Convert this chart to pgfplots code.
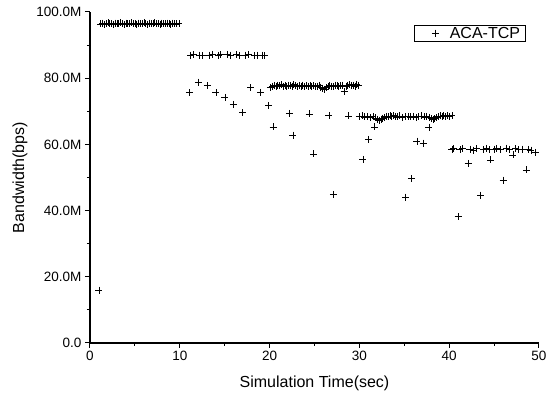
\documentclass[border=0pt]{standalone}
\usepackage{pgfplots}
\pgfplotsset{compat=1.18}
\usepackage{fontspec}
\setmainfont{Liberation Sans}
\begin{document}
\begin{tikzpicture}
\begin{axis}[name=ax, at={(0,0)}, anchor=south west,
 scale only axis, width=449pt, height=331pt,
 xmin=0, xmax=50, ymin=0, ymax=100,
 axis x line*=bottom, axis y line*=left,
 axis line style={line width=1.3pt, black},
 xtick={0,10,...,50}, xticklabels={0,10,20,30,40,50},
 ytick={0,20,...,100}, yticklabels={0.0,20.0M,40.0M,60.0M,80.0M,100.0M},
 minor xtick={5,15,...,45}, minor ytick={10,30,...,90},
 tick align=outside, major tick length=5pt, minor tick length=3pt,
 tick style={line width=1pt, black},
 ticklabel style={font=\fontsize{13.5}{15}\selectfont},
 xlabel={Simulation Time(sec)}, ylabel={Bandwidth(bps)},
 label style={font=\fontsize{16}{18}\selectfont},
 xlabel style={at={(axis description cs:0.5,-0.121)}, anchor=center},
 ylabel style={at={(axis description cs:-0.156,0.5)}, anchor=center},
 legend style={at={(0.971,0.961)}, anchor=north east, draw=black, line width=0.9pt,
   font=\fontsize{16}{18}\selectfont, inner xsep=4pt, inner ysep=0pt,
   nodes={inner sep=1.5pt}},
 legend image code/.code={\path[draw=none] (0pt,0pt) -- (30pt,0pt);
   \draw[line width=0.7pt] plot coordinates {(17pt,0pt)};},
 legend cell align=left,
]
\addplot[only marks, mark=+, mark size=3.5pt, black, mark options={line width=0.7pt}] coordinates {
(1.0,16.0)
(1.2,96.4)(1.4,96.6)(1.6,96.3)(1.8,96.5)(2.0,96.7)(2.2,96.4)(2.4,96.5)(2.6,96.3)(2.8,96.6)(3.0,96.5)
(3.2,96.4)(3.4,96.7)(3.6,96.5)(3.8,96.3)(4.0,96.6)(4.2,96.4)(4.4,96.5)(4.6,96.7)(4.8,96.4)(5.0,96.5)
(5.2,96.3)(5.4,96.6)(5.6,96.5)(5.8,96.4)(6.0,96.7)(6.2,96.5)(6.4,96.3)(6.6,96.6)(6.8,96.4)(7.0,96.5)
(7.2,96.7)(7.4,96.4)(7.6,96.5)(7.8,96.3)(8.0,96.6)(8.2,96.5)(8.4,96.4)(8.6,96.6)(8.8,96.5)(9.0,96.3)
(9.2,96.6)(9.4,96.5)(9.6,96.4)(9.9,96.5)
(11.2,86.9)(11.5,87.1)(12.2,87.0)(12.5,86.8)(13.3,87.0)(13.6,87.2)(14.3,86.9)(14.5,87.1)(15.3,87.2)
(15.6,87.0)(16.3,87.1)(16.6,86.9)(17.3,87.0)(17.6,87.1)(18.3,86.8)(18.6,87.0)(19.2,87.0)(19.4,86.8)
(11.06,75.6)(12.06,78.8)(13.06,77.7)(14.03,75.6)(15.03,74.2)(15.96,72.1)(17.0,69.6)(17.9,77.1)(19.0,75.7)(19.9,71.7)
(20.1,77.2)(20.3,77.6)(20.5,77.8)(20.7,77.5)(20.9,77.9)(21.1,77.7)(21.3,78.0)(21.5,77.6)(21.7,77.8)(21.9,77.5)
(22.1,77.9)(22.3,77.7)(22.5,77.6)(22.7,78.0)(22.9,77.7)(23.1,77.5)(23.3,77.8)(23.5,77.6)(23.7,77.9)(23.9,77.5)
(24.1,77.7)(24.3,77.6)(24.5,77.8)(24.7,77.5)(24.9,77.7)(25.1,77.4)(25.3,77.6)(25.5,77.8)(25.7,77.3)(25.9,77.0)
(26.1,76.7)(26.3,77.1)(26.5,77.5)(26.7,77.8)(26.9,77.6)(27.1,77.5)(27.3,77.9)(27.5,77.7)(27.7,77.5)(27.9,77.8)
(28.1,77.9)(28.3,75.9)(28.5,77.6)(28.7,77.8)(28.9,78.0)(29.1,77.7)(29.3,77.9)(29.5,77.6)(29.7,78.0)(29.9,77.8)
(20.4,65.3)(22.2,69.4)(22.6,62.8)(24.4,69.2)(24.9,57.1)(26.6,68.7)(27.1,44.9)(28.8,68.6)
(30.0,68.4)(30.3,68.6)(30.6,68.3)(30.9,68.5)(31.2,68.2)(31.5,68.4)(31.8,68.0)(32.0,67.6)(32.2,67.3)(32.4,67.6)
(32.6,67.9)(32.8,68.2)(33.0,68.5)(33.2,68.3)(33.4,68.6)(33.6,68.4)(33.8,68.7)(34.0,68.5)(34.2,68.3)(34.5,68.6)
(34.8,68.2)(35.1,68.4)(35.4,68.5)(35.7,68.3)(36.0,68.5)(36.3,68.2)(36.6,68.4)(36.9,68.6)(37.2,68.3)(37.5,68.5)
(37.8,68.2)(38.0,67.8)(38.2,67.5)(38.4,67.8)(38.6,68.1)(38.8,68.4)(39.0,68.6)(39.2,68.5)(39.4,68.7)(39.6,68.4)
(39.8,68.6)(40.0,68.5)(40.3,68.7)
(30.4,55.5)(31.0,61.5)(31.7,65.3)(35.15,44.1)(35.8,49.6)(36.4,61.0)(37.1,60.4)(37.75,65.2)
(40.3,58.5)(40.5,58.7)(41.2,58.4)(41.5,58.8)(42.3,58.6)(42.7,58.3)(43.0,58.7)(43.8,58.5)(44.1,58.8)(44.5,58.4)
(45.0,58.6)(45.3,58.8)(45.7,58.5)(46.4,58.9)(46.7,58.6)(47.4,58.7)(47.7,58.4)(48.1,58.6)(48.8,58.5)(49.1,58.3)
(49.6,57.6)(47.1,56.8)
(41.0,38.2)(42.1,54.3)(43.5,44.7)(44.6,55.3)(46.0,49.2)(48.6,52.3)
};
\addlegendentry{ACA-TCP}
\end{axis}
\pgfresetboundingbox
\path[use as bounding box] ([xshift=-90pt,yshift=-53pt]ax.south west) rectangle ++(555pt,396pt);
\end{tikzpicture}
\end{document}
